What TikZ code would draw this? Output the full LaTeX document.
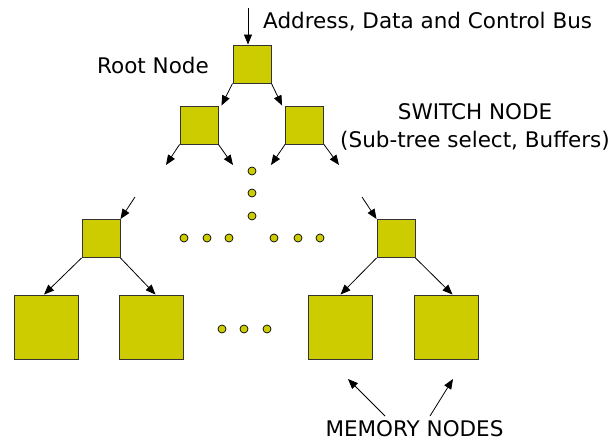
\documentclass[tikz,border=0pt]{standalone}
\usepackage{fontspec}
\setmainfont{DejaVu Sans}
\usetikzlibrary{arrows.meta,positioning,calc}
\definecolor{leaf}{HTML}{CCCC00}
\definecolor{rim}{HTML}{333333}

\tikzset{
 switchbox/.style={draw=rim,fill=leaf,line width=0.9pt,minimum width=38pt,minimum height=38pt,inner sep=0pt},
 membox/.style={switchbox,minimum width=64pt,minimum height=64pt},
 link/.style={->,line width=0.8pt},
 caption/.style={inner sep=0pt},
 dots/.style={draw=black,fill=leaf,line width=0.7pt}
}

\begin{document}
\begin{tikzpicture}[x=1pt,y=-1pt,font=\fontsize{21.5}{26}\selectfont,>={Triangle[length=10pt,width=8pt]}]
\useasboundingbox (0,0) rectangle (611,440);
% switch nodes
\node[switchbox] (root) at (252,64) {};
\node[switchbox] (sl) at (199,125) {};
\node[switchbox] (sr) at (304.5,125) {};
\node[switchbox] (bl) at (101,238.5) {};
\node[switchbox] (br) at (396,238.5) {};
% memory nodes
\node[membox] (m1) at (46,327) {};
\node[membox] (m2) at (151.5,327) {};
\node[membox] (m3) at (340.5,327) {};
\node[membox] (m4) at (446.5,327) {};
% loose ends of the links
\coordinate (bus) at (248,8);
\coordinate (sl1) at (166,165);
\coordinate (sl2) at (233,165);
\coordinate (sr1) at (271,165);
\coordinate (sr2) at (339,165);
\coordinate (bl0) at (135,197);
\coordinate (br0) at (362,197);
% links
\draw[link] (bus) -- (bus |- root.north);
\draw[link] (root.south west) -- ([xshift=3pt]sl.north east);
\draw[link] (root.south east) -- ([xshift=-3pt]sr.north west);
\draw[link] (sl.south west) -- (sl1);
\draw[link] (sl.south east) -- (sl2);
\draw[link] (sr.south west) -- (sr1);
\draw[link] (sr.south east) -- (sr2);
\draw[link] (bl0) -- (bl.north east);
\draw[link] (br0) -- (br.north west);
\draw[link] (bl.south west) -- ([xshift=-2pt]m1.north);
\draw[link] (bl.south east) -- ([xshift=4pt]m2.north);
\draw[link] (br.south west) -- (m3.north);
\draw[link] (br.south east) -- ([xshift=6pt]m4.north);
% the dots for the levels left out
\foreach \y in {171,193,216} \filldraw[dots] (252,\y) circle (4);
\foreach \x in {184,207,229,274,298,320} \filldraw[dots] (\x,238) circle (4);
\foreach \x in {222,244,267} \filldraw[dots] (\x,329) circle (4);
% labels
\node[caption,anchor=base west] (buslabel) at (263,28) {Address, Data and Control Bus};
\node[caption,anchor=base east] (rootlabel) at (209,73) {Root Node};
\node[caption,anchor=base] (switchlabel) at (475,119) {SWITCH NODE};
\node[caption,anchor=base] (switchnote) at (475,147) {(Sub-tree select, Buffers)};
\node[caption,anchor=base] (memlabel) at (414.5,436) {MEMORY NODES};
\coordinate (memtipA) at (348,379);
\coordinate (memtipB) at (453,379);
\draw[link] (385,416) -- (memtipA);
\draw[link] (430,416) -- (memtipB);
\end{tikzpicture}
\end{document}
